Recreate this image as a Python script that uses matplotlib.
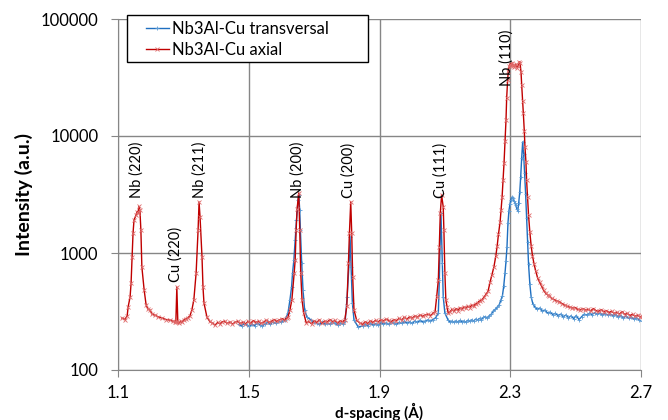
import numpy as np
import matplotlib
matplotlib.use("Agg")
import matplotlib.pyplot as plt
from matplotlib.patches import Rectangle
from matplotlib.ticker import FixedLocator, FuncFormatter, NullLocator

plt.rcParams['font.family'] = ['Lato', 'DejaVu Sans']

# Nb3Al-Cu axial (red)
d_axial = [
    1.112, 1.121, 1.128, 1.131, 1.137, 1.140, 1.143, 1.146, 1.149, 1.155, 1.158, 1.161, 1.164, 1.167,
    1.170, 1.173, 1.180, 1.186, 1.192, 1.198, 1.204, 1.213, 1.222, 1.235, 1.247, 1.259, 1.268, 1.274,
    1.277, 1.280, 1.283, 1.287, 1.292, 1.296, 1.302, 1.308, 1.314, 1.320, 1.326, 1.332, 1.339, 1.345,
    1.348, 1.351, 1.357, 1.360, 1.363, 1.372, 1.380, 1.388, 1.397, 1.405, 1.412, 1.418,
    1.426, 1.434, 1.442, 1.450, 1.458, 1.466, 1.474, 1.482, 1.490, 1.498, 1.506, 1.514, 1.522, 1.530,
    1.538, 1.546, 1.554, 1.562, 1.570, 1.578, 1.586, 1.594, 1.602, 1.610, 1.617, 1.620, 1.626, 1.632,
    1.639, 1.642, 1.645, 1.648, 1.653, 1.656, 1.659, 1.663, 1.668, 1.676, 1.684, 1.692, 1.700,
    1.708, 1.716, 1.724, 1.732, 1.740, 1.748, 1.756, 1.764, 1.772, 1.780, 1.788, 1.794, 1.800, 1.805,
    1.808, 1.812, 1.815, 1.818, 1.822, 1.830, 1.840,
    1.848, 1.856, 1.864, 1.872, 1.880, 1.888, 1.896, 1.904, 1.912, 1.920, 1.928, 1.936, 1.944, 1.952,
    1.960, 1.968, 1.976, 1.984, 1.992, 2.000, 2.008, 2.016, 2.024, 2.032, 2.040, 2.048, 2.056, 2.064,
    2.070, 2.075, 2.080, 2.083, 2.086, 2.090, 2.095, 2.097, 2.100, 2.103, 2.107,
    2.110, 2.116, 2.122, 2.128, 2.134, 2.140, 2.146, 2.152, 2.158, 2.164, 2.170, 2.176, 2.182, 2.188,
    2.194, 2.200, 2.207, 2.214, 2.220, 2.226, 2.232, 2.238, 2.244, 2.250, 2.256, 2.260, 2.264, 2.269,
    2.272, 2.275, 2.278, 2.281, 2.284, 2.287, 2.289, 2.292, 2.294, 2.297, 2.300, 2.303, 2.306, 2.309,
    2.312, 2.315, 2.318, 2.321, 2.325, 2.328, 2.330, 2.333, 2.335, 2.338, 2.340, 2.343, 2.345, 2.348,
    2.350, 2.353, 2.356, 2.360, 2.364, 2.368, 2.373, 2.378, 2.384, 2.390, 2.396, 2.402, 2.408, 2.414,
    2.420, 2.427, 2.434, 2.442, 2.450, 2.458, 2.466, 2.474, 2.482, 2.490, 2.498, 2.506, 2.514, 2.522,
    2.530, 2.538, 2.546, 2.554, 2.562, 2.570, 2.578, 2.586, 2.594, 2.602, 2.610, 2.618, 2.626, 2.634,
    2.642, 2.650, 2.658, 2.666, 2.674, 2.682, 2.690, 2.698, 2.704,
]
i_axial = [
    278, 270, 290, 346, 421, 554, 925, 1480, 1915, 2100, 2250, 2200, 2500, 2330,
    1570, 760, 483, 360, 330, 326, 300, 295, 285, 278, 270, 267, 262, 255,
    258, 512, 257, 250, 262, 255, 270, 275, 280, 290, 326, 397, 675, 1570,
    2730, 2030, 925, 512, 374, 284, 262, 252, 242, 255, 248, 257,
    262, 250, 258, 247, 255, 262, 250, 257, 248, 260, 252, 264, 255, 262,
    250, 258, 266, 255, 262, 270, 260, 268, 275, 268, 280, 284, 326, 400,
    675, 870, 1570, 2400, 3260, 1570, 675, 397, 307, 252, 260, 248, 262,
    255, 268, 250, 262, 256, 270, 258, 265, 252, 263, 258, 270, 350, 822,
    1480, 2740, 1480, 624, 326, 267, 252,
    245, 258, 250, 262, 255, 266, 258, 268, 262, 272, 265, 258, 270, 264,
    276, 268, 282, 272, 285, 276, 290, 282, 295, 288, 296, 300, 292, 305,
    315, 424, 588, 1125, 2200, 3130, 2470, 1570, 675, 397, 345,
    307, 315, 330, 318, 335, 322, 340, 330, 345, 338, 350, 342, 358, 352,
    368, 375, 392, 400, 420, 445, 470, 560, 650, 760, 950, 1150, 1450, 1850,
    2350, 3000, 4200, 5900, 9000, 13700, 21000, 30000, 36000, 39500, 41500, 40000, 42000, 40500,
    39000, 39500, 41000, 38500, 40000, 43000, 42000, 35000, 27300, 20000, 15700, 11000, 8060, 6000,
    4200, 3000, 2100, 1500, 1150, 950, 800, 700, 610, 560, 520, 480, 455, 440,
    425, 410, 400, 390, 382, 370, 360, 350, 345, 338, 342, 330, 326, 335,
    325, 330, 320, 335, 322, 318, 328, 315, 322, 310, 318, 305, 312, 300,
    315, 298, 305, 292, 300, 288, 295, 282, 290,
]

# Nb3Al-Cu transversal (blue)
d_trans = [
    1.470, 1.478, 1.486, 1.494, 1.502, 1.510, 1.518, 1.526, 1.534, 1.542, 1.550, 1.558, 1.566, 1.574,
    1.582, 1.590, 1.598, 1.606, 1.611, 1.620, 1.626, 1.631, 1.634, 1.638, 1.642, 1.646, 1.651, 1.653,
    1.656, 1.658, 1.662, 1.666, 1.671, 1.678, 1.691, 1.700,
    1.708, 1.716, 1.724, 1.732, 1.740, 1.748, 1.756, 1.764, 1.772, 1.780, 1.788, 1.795, 1.801, 1.807,
    1.810, 1.813, 1.817, 1.822, 1.835,
    1.848, 1.856, 1.864, 1.872, 1.880, 1.888, 1.896, 1.904, 1.912, 1.920, 1.928, 1.936, 1.944, 1.952,
    1.960, 1.968, 1.976, 1.984, 1.992, 2.000, 2.008, 2.016, 2.024, 2.032, 2.040, 2.048, 2.056, 2.064,
    2.072, 2.080, 2.083, 2.085, 2.088, 2.092, 2.095, 2.100, 2.110,
    2.116, 2.122, 2.128, 2.134, 2.140, 2.146, 2.152, 2.158, 2.164, 2.170, 2.176, 2.182, 2.188, 2.194,
    2.200, 2.206, 2.212, 2.218, 2.224, 2.230, 2.236, 2.242, 2.248, 2.254, 2.260, 2.266, 2.272, 2.276,
    2.280, 2.284, 2.287, 2.290, 2.293, 2.296, 2.299, 2.302, 2.305, 2.308, 2.311, 2.314, 2.317, 2.320,
    2.323, 2.326, 2.329, 2.332, 2.335, 2.338, 2.341, 2.344, 2.347, 2.350, 2.353, 2.356, 2.360, 2.364,
    2.369, 2.375, 2.382, 2.390, 2.398, 2.406, 2.414, 2.422, 2.430, 2.438, 2.446, 2.454, 2.462, 2.470,
    2.478, 2.486, 2.494, 2.502, 2.510, 2.518, 2.526, 2.534, 2.542, 2.550, 2.558, 2.566, 2.574, 2.582,
    2.590, 2.598, 2.606, 2.614, 2.622, 2.630, 2.638, 2.646, 2.654, 2.662, 2.670, 2.678, 2.686, 2.694,
    2.702,
]
i_trans = [
    245, 238, 250, 242, 236, 245, 240, 252, 244, 238, 248, 255, 246, 258,
    250, 262, 256, 266, 267, 307, 397, 512, 675, 871, 1290, 1915, 2840, 3130,
    2330, 1570, 822, 483, 326, 284, 267, 258,
    250, 245, 255, 248, 252, 246, 256, 250, 244, 252, 248, 262, 421, 822,
    1370, 760, 374, 267, 233,
    238, 245, 240, 250, 243, 248, 242, 255, 247, 252, 245, 258, 250, 246,
    255, 250, 260, 252, 258, 250, 262, 255, 265, 258, 262, 268, 263, 270,
    280, 307, 588, 1100, 2200, 822, 421, 307, 267,
    258, 262, 255, 263, 257, 265, 258, 262, 256, 266, 260, 268, 262, 272,
    268, 276, 270, 282, 285, 278, 292, 300, 320, 330, 345, 360, 400, 430,
    520, 675, 850, 1125, 1800, 2300, 2600, 2850, 3000, 2950, 2800, 2700, 2550, 2400,
    2300, 2700, 3300, 4500, 6500, 8900, 7000, 4800, 3200, 2000, 1250, 800, 540, 420,
    370, 345, 330, 338, 320, 325, 307, 312, 298, 305, 292, 300, 285, 295,
    280, 290, 275, 292, 270, 285, 300, 295, 305, 298, 308, 300, 306, 298,
    304, 295, 300, 292, 298, 286, 292, 280, 288, 276, 284, 272, 280, 268,
    262,
]

x_ticks = [1.1, 1.5, 1.9, 2.3, 2.7]
y_ticks = [100, 1000, 10000, 100000]

# peak labels: text, d position, intensity at label foot
peak_names = ['Nb (220)', 'Cu (220)', 'Nb (211)', 'Nb (200)', 'Cu (200)', 'Cu (111)', 'Nb (110)']
peak_d = [1.156, 1.276, 1.350, 1.650, 1.806, 2.087, 2.289]
peak_i = [2950, 565, 2950, 2950, 2950, 2950, 26700]

fig = plt.figure(figsize=(6.68, 4.2), dpi=100)
ax = fig.add_axes([118 / 668, 50 / 420, 523 / 668, 351 / 420])

ax.plot(d_trans, i_trans, color='#1f6fc0', lw=1.0, marker='+', ms=3, mew=0.6,
        mec='#5b9bd5', label='Nb3Al-Cu transversal')
ax.plot(d_axial, i_axial, color='#c00000', lw=1.0, marker='x', ms=2.5, mew=0.6,
        mec='#e06c6c', label='Nb3Al-Cu axial')

ax.set_yscale('log')
ax.set_xlim(1.1, 2.7)
ax.set_ylim(100, 100000)
ax.xaxis.set_major_locator(FixedLocator(x_ticks))
ax.yaxis.set_major_locator(FixedLocator(y_ticks))
ax.yaxis.set_minor_locator(NullLocator())
ax.yaxis.set_major_formatter(FuncFormatter(lambda v, p: '%d' % v))
ax.xaxis.set_major_formatter(FuncFormatter(lambda v, p: '%.1f' % v))
ax.grid(True, color='#868686', lw=1.0)
ax.set_axisbelow(True)
for s in ['top', 'right']:
    ax.spines[s].set_visible(False)
for s in ['left', 'bottom']:
    ax.spines[s].set_color('#868686')
ax.tick_params(axis='both', colors='#868686', labelcolor='black', labelsize=12, length=5)
ax.tick_params(axis='y', pad=9)
ax.tick_params(axis='x', pad=6)

for name, d, i in zip(peak_names, peak_d, peak_i):
    ax.text(d, i, name, rotation=90, ha='center', va='bottom', fontsize=10.5)

ax.set_xlabel('d-spacing (Å)', fontsize=11, fontweight='bold')
ax.xaxis.set_label_coords(0.5, -0.093)
ax.set_ylabel('Intensity (a.u.)', fontsize=14, fontweight='bold')
ax.yaxis.set_label_coords(-0.1625, 0.5)

# legend box drawn separately to get the wide side padding
fig.patches.append(Rectangle((127 / 668, 1 - 62 / 420), 241 / 668, 47 / 420,
                             transform=fig.transFigure, facecolor='white',
                             edgecolor='black', lw=1.0, zorder=5))
leg = fig.legend(loc='upper left', bbox_to_anchor=(146 / 668, 1 - 21 / 420), fontsize=12,
                 frameon=False, handlelength=1.35, borderpad=0, labelspacing=0.3,
                 handletextpad=0.2, borderaxespad=0)
leg.set_zorder(6)

fig.savefig('out.png', dpi=100)
